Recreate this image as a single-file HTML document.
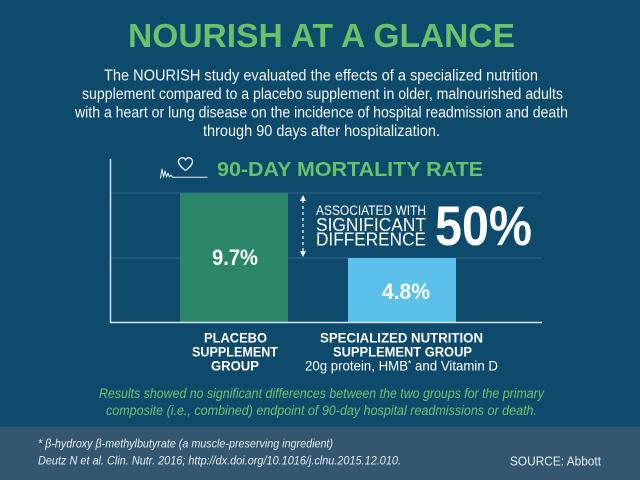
<!DOCTYPE html>
<html>
<head>
<meta charset="utf-8">
<style>
  html, body { margin:0; padding:0; background:#0d4a6c; }
  svg { display:block; }
  text { font-family: "Liberation Sans", "DejaVu Sans", sans-serif; }
</style>
</head>
<body>
<svg width="640" height="480" viewBox="0 0 640 480" xmlns="http://www.w3.org/2000/svg">
  <rect x="0" y="0" width="640" height="480" fill="#0d4a6c"/>

  <!-- Title -->
  <text x="128" y="47" font-size="33" font-weight="bold" fill="#6dbf6b" textLength="387" lengthAdjust="spacingAndGlyphs">NOURISH AT A GLANCE</text>

  <!-- Intro paragraph -->
  <g font-size="15.5" fill="#f2f6f8">
    <text x="104" y="80.5" textLength="434" lengthAdjust="spacingAndGlyphs">The NOURISH study evaluated the effects of a specialized nutrition</text>
    <text x="82" y="99" textLength="481" lengthAdjust="spacingAndGlyphs">supplement compared to a placebo supplement in older, malnourished adults</text>
    <text x="75" y="117.5" textLength="493" lengthAdjust="spacingAndGlyphs">with a heart or lung disease on the incidence of hospital readmission and death</text>
    <text x="203" y="136" textLength="237" lengthAdjust="spacingAndGlyphs">through 90 days after hospitalization.</text>
  </g>

  <!-- Heart / ECG icon -->
  <g fill="none" stroke="#e8f0f4" stroke-width="1" stroke-linejoin="round" stroke-linecap="round">
    <path d="M160.5 178 L162 169 L163.5 177 L165 171 L166.5 177 L168 173 L169.5 177 L171 175 L172.5 177.3 L207 177.3"/>
    <path d="M185.5 170.5 C181 167 178.5 164.5 178.5 161.5 C178.5 159 180.5 157.8 182.3 157.8 C183.8 157.8 185 158.8 185.5 160 C186 158.8 187.2 157.8 188.7 157.8 C190.5 157.8 192.5 159 192.5 161.5 C192.5 164.5 190 167 185.5 170.5 Z" stroke-width="1.3"/>
  </g>

  <!-- Chart title -->
  <text x="217" y="176" font-size="20" font-weight="bold" fill="#6dbf6b" textLength="266" lengthAdjust="spacingAndGlyphs">90-DAY MORTALITY RATE</text>

  <!-- Gridlines -->
  <line x1="111" y1="193" x2="542" y2="193" stroke="#2e6788" stroke-width="1"/>
  <line x1="111" y1="258" x2="542" y2="258" stroke="#2e6788" stroke-width="1"/>

  <!-- Bars -->
  <rect x="180" y="193" width="108" height="130" fill="#2c8669"/>
  <rect x="348" y="258" width="108" height="65" fill="#5bc1ea"/>

  <!-- Axes -->
  <line x1="110.5" y1="159" x2="110.5" y2="323" stroke="#d6e5ee" stroke-width="1.5"/>
  <line x1="110" y1="322.5" x2="542" y2="322.5" stroke="#d6e5ee" stroke-width="1.5"/>

  <!-- Bar values -->
  <text x="212" y="265" font-size="22" font-weight="bold" fill="#ffffff" textLength="46" lengthAdjust="spacingAndGlyphs">9.7%</text>
  <text x="382" y="299" font-size="22" font-weight="bold" fill="#ffffff" textLength="48" lengthAdjust="spacingAndGlyphs">4.8%</text>

  <!-- Double arrow -->
  <line x1="303" y1="200" x2="303" y2="252" stroke="#ffffff" stroke-width="1.2" stroke-dasharray="3 3"/>
  <path d="M303 195 L300 201 L306 201 Z" fill="#ffffff"/>
  <path d="M303 257 L300 251 L306 251 Z" fill="#ffffff"/>

  <!-- Difference text -->
  <g fill="#ffffff">
    <text x="316" y="215" font-size="13.5" textLength="110" lengthAdjust="spacingAndGlyphs">ASSOCIATED WITH</text>
    <text x="316" y="231" font-size="18" textLength="110" lengthAdjust="spacingAndGlyphs">SIGNIFICANT</text>
    <text x="316" y="245.7" font-size="18" textLength="110" lengthAdjust="spacingAndGlyphs">DIFFERENCE</text>
    <text x="435" y="245" font-size="56" font-weight="bold" textLength="97" lengthAdjust="spacingAndGlyphs">50%</text>
  </g>

  <!-- Category labels -->
  <g fill="#ffffff" font-size="13.5" font-weight="bold">
    <text x="204" y="342.7" textLength="63" lengthAdjust="spacingAndGlyphs">PLACEBO</text>
    <text x="192" y="356.7" textLength="86" lengthAdjust="spacingAndGlyphs">SUPPLEMENT</text>
    <text x="211" y="370.7" textLength="48" lengthAdjust="spacingAndGlyphs">GROUP</text>
    <text x="320" y="342.7" textLength="163" lengthAdjust="spacingAndGlyphs">SPECIALIZED NUTRITION</text>
    <text x="333" y="356.7" textLength="139" lengthAdjust="spacingAndGlyphs">SUPPLEMENT GROUP</text>
  </g>
  <text x="305" y="370.7" font-size="14" fill="#ffffff" textLength="193" lengthAdjust="spacingAndGlyphs">20g protein, HMB<tspan dy="-4" font-size="9">*</tspan><tspan dy="4"> and Vitamin D</tspan></text>

  <!-- Green italic note -->
  <g fill="#74c16f" font-size="13.5" font-style="italic">
    <text x="99" y="398" textLength="445" lengthAdjust="spacingAndGlyphs">Results showed no significant differences between the two groups for the primary</text>
    <text x="106" y="415" textLength="431" lengthAdjust="spacingAndGlyphs">composite (i.e., combined) endpoint of 90-day hospital readmissions or death.</text>
  </g>

  <!-- Footer -->
  <rect x="0" y="426.5" width="640" height="53.5" fill="#34566e"/>
  <g fill="#e4ecf1">
    <text x="38" y="447.7" font-size="12" font-style="italic" textLength="295" lengthAdjust="spacingAndGlyphs">* β-hydroxy β-methylbutyrate (a muscle-preserving ingredient)</text>
    <text x="38" y="464.5" font-size="12" font-style="italic" textLength="363" lengthAdjust="spacingAndGlyphs">Deutz N et al. Clin. Nutr. 2016; http://dx.doi.org/10.1016/j.clnu.2015.12.010.</text>
    <text x="510" y="465.7" font-size="13" textLength="91" lengthAdjust="spacingAndGlyphs">SOURCE: Abbott</text>
  </g>
</svg>
</body>
</html>
